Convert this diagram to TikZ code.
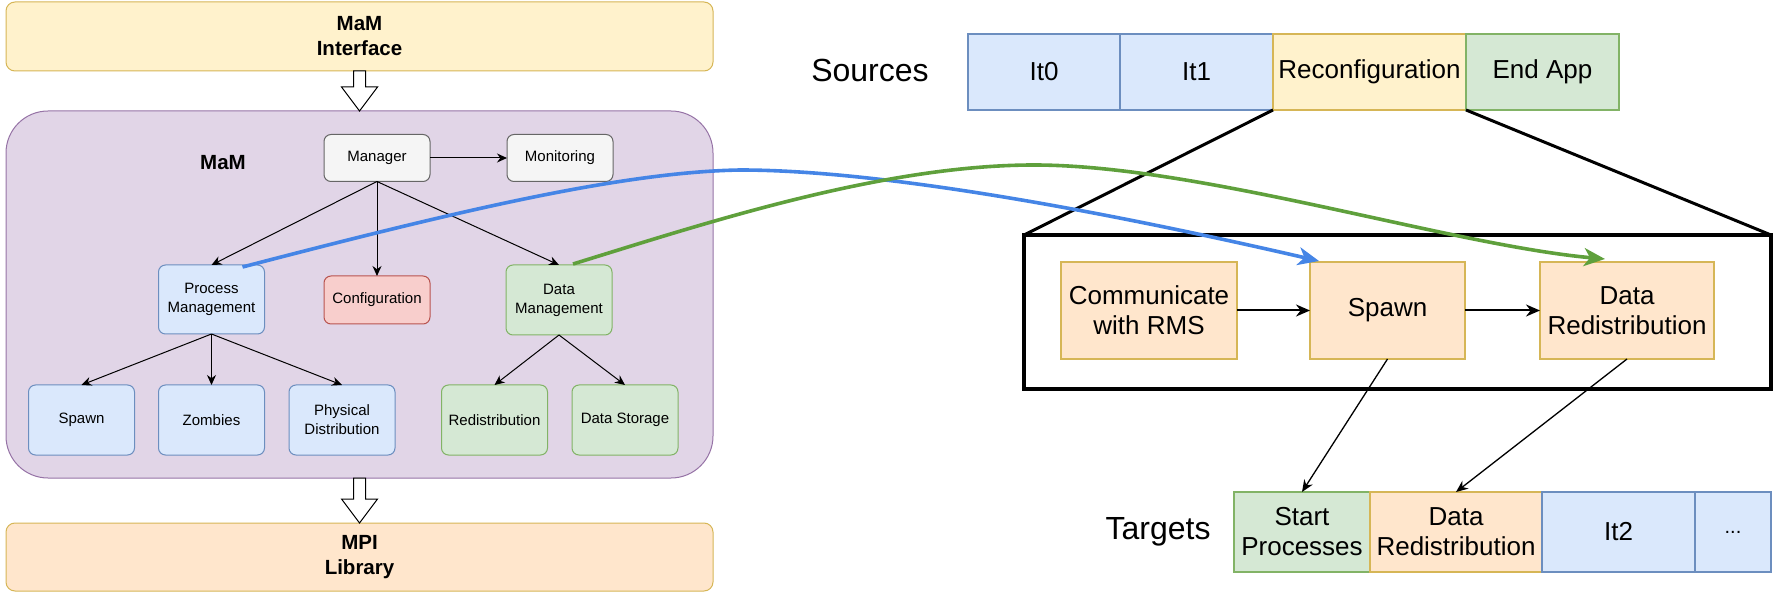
\documentclass[tikz,border=0pt]{standalone}
\usepackage{fontspec}
\setmainfont{Liberation Sans}
\usetikzlibrary{arrows.meta,calc}

\definecolor{yelF}{HTML}{FFF2CC}\definecolor{yelD}{HTML}{D6B656}
\definecolor{purF}{HTML}{E1D5E7}\definecolor{purD}{HTML}{9673A6}
\definecolor{gryF}{HTML}{F5F5F5}\definecolor{gryD}{HTML}{666666}
\definecolor{bluF}{HTML}{DAE8FC}\definecolor{bluD}{HTML}{6C8EBF}
\definecolor{redF}{HTML}{F8CECC}\definecolor{redD}{HTML}{B85450}
\definecolor{grnF}{HTML}{D5E8D4}\definecolor{grnD}{HTML}{82B366}
\definecolor{orgF}{HTML}{FFE6CC}
\definecolor{linkBlue}{HTML}{4585E6}
\definecolor{linkGreen}{HTML}{5FA03C}

\tikzset{
  lbox/.style={draw, rounded corners=7pt, inner sep=0pt, outer sep=0pt, align=center,
    line width=1pt, font=\fontsize{15}{19}\selectfont, minimum width=106pt},
  gbox/.style={lbox, fill=gryF, draw=gryD, minimum height=47pt},
  bbox/.style={lbox, fill=bluF, draw=bluD},
  rbox/.style={lbox, fill=redF, draw=redD, minimum height=48pt},
  ggbox/.style={lbox, fill=grnF, draw=grnD},
  layer/.style={draw, rounded corners=9pt, inner sep=0pt, outer sep=0pt, align=center,
    line width=1pt, minimum width=707pt, font=\bfseries\fontsize{20.5}{25}\selectfont},
  tarrow/.style={draw, line width=1pt, -{Stealth[length=10pt,width=9pt]}},
  blockarrow/.style={draw=black, fill=white, line width=1pt, line join=miter},
  cell/.style={draw, line width=1.5pt, inner sep=0pt, outer sep=0pt, align=center,
    minimum height=76pt, font=\fontsize{26}{30}\selectfont},
  stage/.style={draw=yelD, fill=orgF, line width=1.5pt, inner sep=0pt, outer sep=0pt,
    align=center, minimum height=97pt, font=\fontsize{26}{30}\selectfont},
  rarrow/.style={draw, line width=2pt, -{Stealth[length=14pt,width=12pt]}},
  curvelink/.style={line width=3.6pt, -{Stealth[length=21pt,width=18pt,inset=6pt]}},
  biglabel/.style={font=\fontsize{32}{36}\selectfont, inner sep=0pt}
}

\begin{document}
\begin{tikzpicture}[x=1pt,y=-1pt]
\useasboundingbox (0,0) rectangle (1775,593);

% ---------------- left: MaM layers ----------------
\node[layer, fill=yelF, draw=yelD, minimum height=69pt] (iface) at (359.5,36.5) {MaM\\Interface};
\node[layer, fill=purF, draw=purD, minimum height=367pt, rounded corners=42pt] (mam) at (359.5,294.5) {};
\node[layer, fill=orgF, draw=yelD, minimum height=68pt] (mpi) at (359.5,557) {MPI\\Library};

\node[font=\bfseries\fontsize{20.5}{25}\selectfont, inner sep=0pt] (mamlabel) at (223,163) {MaM};

% hollow block arrows between layers
\draw[blockarrow] ($(iface.south)+(-6,0)$) -- ++(0,16) -- ++(-12,0) -- (mam.north)
  -- ($(iface.south)+(18,16)$) -- ++(-12,0) -- ($(iface.south)+(6,0)$) -- cycle;
\draw[blockarrow] ($(mam.south)+(-6,0)$) -- ++(0,21) -- ++(-12,0) -- (mpi.north)
  -- ($(mam.south)+(18,21)$) -- ++(-12,0) -- ($(mam.south)+(6,0)$) -- cycle;

% component tree
\node[gbox] (manager) at (377,158) {Manager};
\node[gbox] (monitor) at (560,158) {Monitoring};
\node[bbox, minimum height=69pt] (pm) at (211.5,299.5) {Process\\Management};
\node[rbox] (config) at (377,300) {Configuration};
\node[ggbox, minimum height=70pt] (dm) at (559,300) {Data\\Management};
\node[bbox, minimum height=70pt] (lspawn) at (81.5,420) {Spawn};
\node[bbox, minimum height=70pt] (zombies) at (211.5,420) {Zombies};
\node[bbox, minimum height=70pt] (phys) at (342,420) {Physical\\Distribution};
\node[ggbox, minimum height=70pt] (redist) at (494.5,420) {Redistribution};
\node[ggbox, minimum height=70pt] (dstore) at (625,420) {Data Storage};

\draw[tarrow] (manager) -- (monitor);
\draw[tarrow] (manager.south) -- (pm.north);
\draw[tarrow] (manager.south) -- (config.north);
\draw[tarrow] (manager.south) -- (dm.north);
\draw[tarrow] (pm.south) -- (lspawn.north);
\draw[tarrow] (pm.south) -- (zombies.north);
\draw[tarrow] (pm.south) -- (phys.north);
\draw[tarrow] (dm.south) -- (redist.north);
\draw[tarrow] (dm.south) -- (dstore.north);

% ---------------- right: reconfiguration timeline ----------------
\node[biglabel] (sources) at (870,70) {Sources};
\node[cell, fill=bluF, draw=bluD, minimum width=152pt] (it0) at (1044,72) {It0};
\node[cell, fill=bluF, draw=bluD, minimum width=153pt] (it1) at (1196.5,72) {It1};
\node[cell, fill=yelF, draw=yelD, minimum width=193pt] (reconf) at (1369.5,72) {Reconfiguration};
\node[cell, fill=grnF, draw=grnD, minimum width=153pt] (endapp) at (1542.5,72) {End App};

\node[draw, line width=4.5pt, minimum width=747pt, minimum height=154pt, inner sep=0pt, outer sep=0pt] (zoombox) at (1397.5,312) {};
\draw[line width=3pt] (reconf.south west) -- (zoombox.north west);
\draw[line width=3pt] (reconf.south east) -- (zoombox.north east);

\node[stage, minimum width=176pt] (comm) at (1149,310.5) {Communicate\\with RMS};
\node[stage, minimum width=155pt] (rspawn) at (1387.5,310.5) {Spawn};
\node[stage, minimum width=174pt] (rdata) at (1627,310.5) {Data\\Redistribution};
\draw[rarrow] (comm) -- (rspawn);
\draw[rarrow] (rspawn) -- (rdata);

\node[biglabel] (targets) at (1158,532) {Targets};
\node[cell, fill=grnF, draw=grnD, minimum width=136pt, minimum height=80pt] (startp) at (1302,532) {Start\\Processes};
\node[cell, fill=orgF, draw=yelD, minimum width=172pt, minimum height=80pt] (tdata) at (1456,532) {Data\\Redistribution};
\node[cell, fill=bluF, draw=bluD, minimum width=153pt, minimum height=80pt] (it2) at (1618.5,532) {It2};
\node[cell, fill=bluF, draw=bluD, minimum width=76pt, minimum height=80pt, font=\fontsize{20}{24}\selectfont] (more) at (1733,532) {...};

\draw[tarrow, line width=1.3pt, -{Stealth[length=12pt,width=10pt]}] (rspawn.south) -- (startp.north);
\draw[tarrow, line width=1.3pt, -{Stealth[length=12pt,width=10pt]}] (rdata.south) -- (tdata.north);

% ---------------- links from components to stages ----------------
\coordinate (bs) at ($(pm.north east)+(-22,2)$);
\coordinate (be) at ($(rspawn.north west)+(9,-1)$);
\coordinate (gs) at ($(dm.north)+(14,-1)$);
\coordinate (ge) at ($(rdata.north)+(-22,-3)$);
\draw[curvelink, linkBlue] (bs) .. controls (450,213) and (620,172) .. (740,170)
  .. controls (900,170) and (1150,222) .. (be);
\draw[curvelink, linkGreen] (gs) .. controls (700,225) and (880,165) .. (1034,165)
  .. controls (1200,165) and (1450,245) .. (ge);
\end{tikzpicture}
\end{document}
